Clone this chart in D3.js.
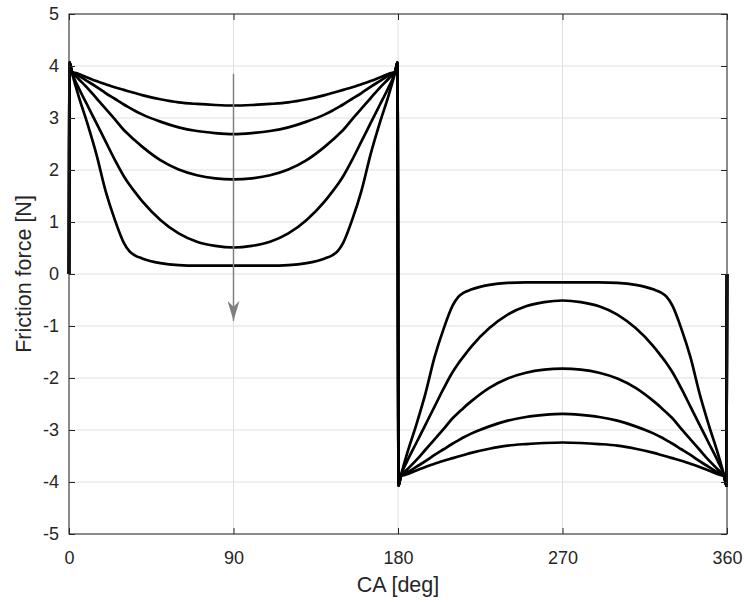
<!DOCTYPE html>
<html>
<head>
<meta charset="utf-8">
<script src="https://cdn.jsdelivr.net/npm/d3@7"></script>
<style>
  html, body { margin: 0; padding: 0; background: #ffffff; }
  svg { display: block; }
  text { font-family: "Liberation Sans", Arial, Helvetica, sans-serif; fill: #262626; }
</style>
</head>
<body>
<svg id="chart" width="744" height="603"></svg>
<script>
// ---------- data ----------
const xTicks = [0, 90, 180, 270, 360];
const yTicks = [-5, -4, -3, -2, -1, 0, 1, 2, 3, 4, 5];
const xLabel = "CA [deg]";
const yLabel = "Friction force [N]";

// crank angle samples [deg]
const angles = [
  0, 0.3, 1.5, 5, 10, 15, 20, 25, 30, 33, 36, 40, 50, 60, 70, 80, 90,
  100, 110, 120, 130, 140, 144, 147, 150, 155, 160, 165, 170, 175, 178.5, 179.7,
  180.3, 181.5, 185, 190, 195, 200, 205, 210, 213, 216, 220, 230, 240, 250, 260, 270,
  280, 290, 300, 310, 320, 324, 327, 330, 335, 340, 345, 350, 355, 358.5, 359.7, 360
];

// friction force [N] for five cases
const force1 = [
  0, 4.07, 3.89, 3.85, 3.78, 3.71, 3.65, 3.59, 3.54, 3.51, 3.48, 3.44, 3.36, 3.30, 3.27, 3.25, 3.24,
  3.25, 3.27, 3.30, 3.36, 3.44, 3.48, 3.51, 3.54, 3.59, 3.65, 3.71, 3.78, 3.85, 3.89, 4.07,
  -4.07, -3.89, -3.85, -3.78, -3.71, -3.65, -3.59, -3.54, -3.51, -3.48, -3.44, -3.36, -3.30, -3.27, -3.25, -3.24,
  -3.25, -3.27, -3.30, -3.36, -3.44, -3.48, -3.51, -3.54, -3.59, -3.65, -3.71, -3.78, -3.85, -3.89, -4.07, 0
];
const force2 = [
  0, 4.07, 3.89, 3.82, 3.71, 3.60, 3.48, 3.37, 3.26, 3.20, 3.14, 3.07, 2.93, 2.82, 2.75, 2.71, 2.69,
  2.71, 2.75, 2.82, 2.93, 3.07, 3.14, 3.20, 3.26, 3.37, 3.48, 3.60, 3.71, 3.82, 3.89, 4.07,
  -4.07, -3.89, -3.82, -3.71, -3.60, -3.48, -3.37, -3.26, -3.20, -3.14, -3.07, -2.93, -2.82, -2.75, -2.71, -2.69,
  -2.71, -2.75, -2.82, -2.93, -3.07, -3.14, -3.20, -3.26, -3.37, -3.48, -3.60, -3.71, -3.82, -3.89, -4.07, 0
];
const force3 = [
  0, 4.07, 3.89, 3.76, 3.58, 3.38, 3.18, 2.98, 2.77, 2.67, 2.57, 2.45, 2.19, 2.01, 1.90, 1.84, 1.82,
  1.84, 1.90, 2.01, 2.19, 2.45, 2.57, 2.67, 2.77, 2.98, 3.18, 3.38, 3.58, 3.76, 3.89, 4.07,
  -4.07, -3.89, -3.76, -3.58, -3.38, -3.18, -2.98, -2.77, -2.67, -2.57, -2.45, -2.19, -2.01, -1.90, -1.84, -1.82,
  -1.84, -1.90, -2.01, -2.19, -2.45, -2.57, -2.67, -2.77, -2.98, -3.18, -3.38, -3.58, -3.76, -3.89, -4.07, 0
];
const force4 = [
  0, 4.07, 3.89, 3.60, 3.25, 2.90, 2.55, 2.20, 1.88, 1.72, 1.58, 1.40, 1.04, 0.78, 0.62, 0.54, 0.51,
  0.54, 0.62, 0.78, 1.04, 1.40, 1.58, 1.72, 1.88, 2.20, 2.55, 2.90, 3.25, 3.60, 3.89, 4.07,
  -4.07, -3.89, -3.60, -3.25, -2.90, -2.55, -2.20, -1.88, -1.72, -1.58, -1.40, -1.04, -0.78, -0.62, -0.54, -0.51,
  -0.54, -0.62, -0.78, -1.04, -1.40, -1.58, -1.72, -1.88, -2.20, -2.55, -2.90, -3.25, -3.60, -3.89, -4.07, 0
];
const force5 = [
  0, 4.07, 3.89, 3.45, 2.90, 2.30, 1.60, 1.05, 0.60, 0.44, 0.36, 0.30, 0.21, 0.17, 0.16, 0.16, 0.16,
  0.16, 0.16, 0.17, 0.21, 0.30, 0.36, 0.44, 0.60, 1.05, 1.60, 2.30, 2.90, 3.45, 3.89, 4.07,
  -4.07, -3.89, -3.45, -2.90, -2.30, -1.60, -1.05, -0.60, -0.44, -0.36, -0.30, -0.21, -0.17, -0.16, -0.16, -0.16,
  -0.16, -0.16, -0.17, -0.21, -0.30, -0.36, -0.44, -0.60, -1.05, -1.60, -2.30, -2.90, -3.45, -3.89, -4.07, 0
];
const series = [force1, force2, force3, force4, force5];

// annotation arrow (trend direction) at CA = 90 deg
const arrowX = 90;
const arrowFrom = 3.85;
const arrowTo = -0.9;

// ---------- layout ----------
const svg = d3.select("#chart");
const L = 69, R = 727, T = 14, B = 534;
const x = d3.scaleLinear().domain([0, 360]).range([L, R]);
const y = d3.scaleLinear().domain([-5, 5]).range([B, T]);
const axisColor = "#262626";
const tickFont = "18px";
const labelFont = "21.5px";

// grid
const grid = svg.append("g");
grid.selectAll("line.gx").data(xTicks).enter().append("line")
  .attr("x1", d => x(d)).attr("x2", d => x(d)).attr("y1", T).attr("y2", B)
  .attr("stroke", "#dfdfdf").attr("stroke-width", 1);
grid.selectAll("line.gy").data(yTicks).enter().append("line")
  .attr("y1", d => y(d)).attr("y2", d => y(d)).attr("x1", L).attr("x2", R)
  .attr("stroke", "#dfdfdf").attr("stroke-width", 1);

// curves
const line = d3.line()
  .x((d, i) => x(angles[i]))
  .y(d => y(d))
  .curve(d3.curveMonotoneX);
svg.append("g").selectAll("path").data(series).enter().append("path")
  .attr("d", d => line(d))
  .attr("fill", "none")
  .attr("stroke", "#000")
  .attr("stroke-width", 2.7)
  .attr("stroke-linejoin", "round");

// arrow
const defs = svg.append("defs");
defs.append("marker")
  .attr("id", "ah").attr("viewBox", "0 0 20 12")
  .attr("refX", 20).attr("refY", 6)
  .attr("markerUnits", "userSpaceOnUse")
  .attr("markerWidth", 20).attr("markerHeight", 12)
  .attr("orient", "auto")
  .append("path").attr("d", "M0,0 L20,6 L0,12 L6,6 Z").attr("fill", "#808080");
svg.append("line")
  .attr("x1", x(arrowX)).attr("x2", x(arrowX))
  .attr("y1", y(arrowFrom)).attr("y2", y(arrowTo))
  .attr("stroke", "#808080").attr("stroke-width", 1.5)
  .attr("marker-end", "url(#ah)");

// axes (ticks inward, box on all sides)
const tl = 6;
const xAxisB = d3.axisBottom(x).tickValues(xTicks).tickSize(-tl).tickPadding(17).tickFormat(d3.format("d"));
const xAxisT = d3.axisTop(x).tickValues(xTicks).tickSize(-tl).tickFormat("");
const yAxisL = d3.axisLeft(y).tickValues(yTicks).tickSize(-tl).tickPadding(10).tickFormat(d => d);
const yAxisR = d3.axisRight(y).tickValues(yTicks).tickSize(-tl).tickFormat("");

function style(g) {
  g.select("path.domain").remove();
  g.selectAll(".tick line").attr("stroke", axisColor).attr("stroke-width", 1);
  g.selectAll(".tick text").attr("fill", axisColor).style("font-size", tickFont)
    .style("font-family", "'Liberation Sans', Arial, sans-serif");
}
svg.append("g").attr("transform", `translate(0,${B})`).call(xAxisB).call(style);
svg.append("g").attr("transform", `translate(0,${T})`).call(xAxisT).call(style);
svg.append("g").attr("transform", `translate(${L},0)`).call(yAxisL).call(style);
svg.append("g").attr("transform", `translate(${R},0)`).call(yAxisR).call(style);

// frame
svg.append("rect")
  .attr("x", L).attr("y", T).attr("width", R - L).attr("height", B - T)
  .attr("fill", "none").attr("stroke", axisColor).attr("stroke-width", 1);

// axis labels
svg.append("text")
  .attr("x", (L + R) / 2).attr("y", 592)
  .attr("text-anchor", "middle")
  .style("font-size", labelFont)
  .text(xLabel);
svg.append("text")
  .attr("transform", `translate(30.5,${(T + B) / 2}) rotate(-90)`)
  .attr("text-anchor", "middle")
  .style("font-size", labelFont)
  .text(yLabel);
</script>
</body>
</html>
